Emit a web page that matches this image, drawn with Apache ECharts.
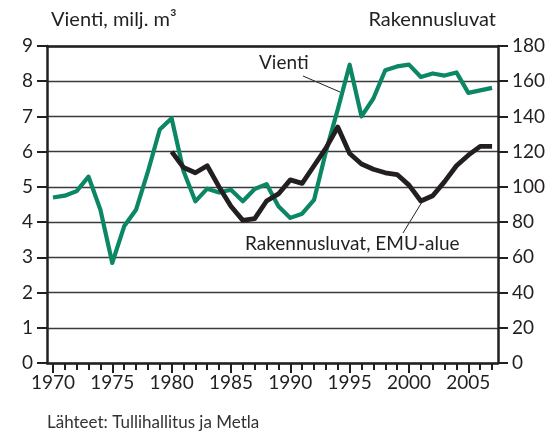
<!DOCTYPE html>
<html lang="fi">
<head>
<meta charset="utf-8">
<script src="https://cdn.jsdelivr.net/npm/echarts@6/dist/echarts.min.js"></script>
<style>
    html, body { margin: 0; padding: 0; background: #fff; }
    #main { width: 553px; height: 434px; }
</style>
</head>
<body>
<div id="main"></div>
<script type="text/javascript">
    // vuodet 1970-2007
    var years = [];
    for (var y = 1970; y <= 2007; y++) { years.push(String(y)); }

    // Vienti, milj. m3 (vasen akseli)
    var vienti = [4.70, 4.75, 4.88, 5.29, 4.35, 2.84, 3.88, 4.35, 5.43, 6.63,
                  6.95, 5.45, 4.59, 4.95, 4.84, 4.92, 4.59, 4.94, 5.08, 4.45,
                  4.12, 4.24, 4.63, 6.00, 7.20, 8.47, 7.00, 7.51, 8.31, 8.42,
                  8.47, 8.12, 8.22, 8.16, 8.25, 7.67, 7.74, 7.81];

    // Rakennusluvat, EMU-alue (oikea akseli), alkaa 1980
    var rakennusluvat = [null, null, null, null, null, null, null, null, null, null,
                         120, 111, 108, 112, 100, 89, 81, 82, 92, 96,
                         104, 102, 112, 122, 134, 119, 113, 110, 108, 107,
                         101, 92, 95, 103, 112, 118, 123, 123];

    var ink = '#231f20';
    var green = '#0b8766';
    var font = 'Lato';

    var chart = echarts.init(document.getElementById('main'), null, {renderer: 'canvas'});

    var option = {
        backgroundColor: '#fff',
        animation: false,
        textStyle: { fontFamily: font, color: ink },
        title: [
            { text: 'Vienti, milj. m³', left: 46, top: 5,
              textStyle: { fontFamily: font, fontSize: 20, fontWeight: 'normal', color: ink } },
            { text: 'Rakennusluvat', right: 52, top: 5,
              textStyle: { fontFamily: font, fontSize: 20, fontWeight: 'normal', color: ink } }
        ],
        grid: { left: 47, right: 55, top: 46, bottom: 71 },
        xAxis: [
            {
                type: 'category', data: years, boundaryGap: true, position: 'bottom',
                axisLine: { show: true, onZero: false, lineStyle: { color: ink, width: 2.5 } },
                axisTick: { show: true, alignWithLabel: true, interval: 0, length: 7, lineStyle: { color: ink, width: 2 } },
                axisLabel: { interval: 4, margin: 10, fontFamily: font, fontSize: 19, color: ink },
                splitLine: { show: false }
            },
            {
                type: 'category', data: years, boundaryGap: true, position: 'bottom',
                axisLine: { show: false },
                axisTick: { show: true, alignWithLabel: true, interval: 4, length: 10, lineStyle: { color: ink, width: 2 } },
                axisLabel: { show: false },
                splitLine: { show: false }
            },
            {
                type: 'category', data: years, boundaryGap: true, position: 'top',
                axisLine: { show: true, onZero: false, lineStyle: { color: ink, width: 2.5 } },
                axisTick: { show: false },
                axisLabel: { show: false },
                splitLine: { show: false }
            }
        ],
        yAxis: [
            {
                type: 'value', min: 0, max: 9, interval: 1, position: 'left',
                axisLine: { show: true, lineStyle: { color: ink, width: 2.5 } },
                axisTick: { show: true, length: 10, lineStyle: { color: ink, width: 2 } },
                axisLabel: { margin: 14, fontFamily: font, fontSize: 19, color: ink },
                splitLine: { show: true, lineStyle: { color: '#3a3a3a', width: 1.3 } }
            },
            {
                type: 'value', min: 0, max: 180, interval: 20, position: 'right',
                axisLine: { show: true, lineStyle: { color: ink, width: 2.5 } },
                axisTick: { show: true, length: 10, lineStyle: { color: ink, width: 2 } },
                axisLabel: { margin: 14, fontFamily: font, fontSize: 19, color: ink },
                splitLine: { show: false }
            }
        ],
        series: [
            {
                name: 'Vienti', type: 'line', xAxisIndex: 0, yAxisIndex: 0,
                data: vienti, showSymbol: false, symbol: 'none',
                lineStyle: { color: green, width: 4.2, join: 'round' }
            },
            {
                name: 'Rakennusluvat, EMU-alue', type: 'line', xAxisIndex: 0, yAxisIndex: 1,
                data: rakennusluvat, showSymbol: false, symbol: 'none', connectNulls: false,
                lineStyle: { color: ink, width: 4.8, join: 'round' }
            }
        ],
        graphic: [
            { type: 'text', left: 259, top: 53, style: { text: 'Vienti', font: '19px Lato', fill: ink } },
            { type: 'line', shape: { x1: 303, y1: 76, x2: 340, y2: 92 }, style: { stroke: ink, lineWidth: 1 } },
            { type: 'text', left: 245, top: 234, style: { text: 'Rakennusluvat, EMU-alue', font: '19px Lato', fill: ink } },
            { type: 'line', shape: { x1: 403, y1: 233, x2: 422, y2: 202 }, style: { stroke: ink, lineWidth: 1 } },
            { type: 'text', left: 47, top: 414, style: { text: 'Lähteet: Tullihallitus ja Metla', font: '17px Lato', fill: '#333' } }
        ]
    };

    chart.setOption(option);
</script>
</body>
</html>
